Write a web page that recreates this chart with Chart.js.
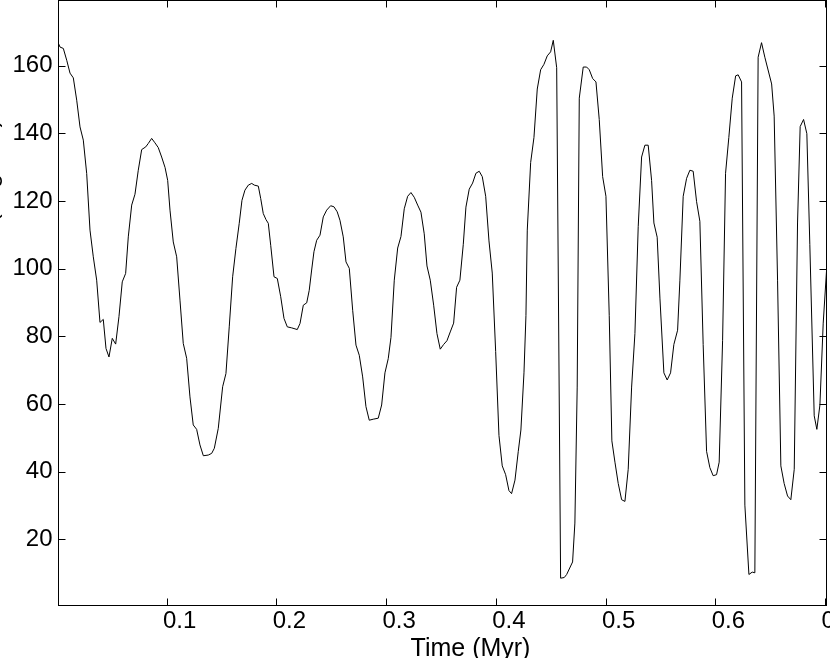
<!DOCTYPE html>
<html>
<head>
<meta charset="utf-8">
<script src="https://cdn.jsdelivr.net/npm/chart.js@4.4.1/dist/chart.umd.min.js"></script>
<style>
  html, body { margin: 0; padding: 0; background: #fff; }
  #frame { position: relative; width: 830px; height: 658px; overflow: hidden; }
  #chart { position: absolute; left: -28px; top: -20px; }
</style>
</head>
<body>
<div id="frame"><canvas id="chart" width="900" height="700"></canvas></div>
<script>
// time in Myr
const times = [
  0.0012, 0.0028, 0.0058, 0.0089, 0.0119, 0.0149, 0.0180, 0.0210, 0.0240, 0.0271,
  0.0301, 0.0331, 0.0362, 0.0392, 0.0422, 0.0447, 0.0474, 0.0504, 0.0535, 0.0565,
  0.0595, 0.0626, 0.0650, 0.0681, 0.0711, 0.0741, 0.0772, 0.0809, 0.0832, 0.0863,
  0.0893, 0.0923, 0.0954, 0.0985, 0.1009, 0.1030, 0.1060, 0.1091, 0.1121, 0.1151,
  0.1182, 0.1212, 0.1242, 0.1273, 0.1303, 0.1334, 0.1379, 0.1410, 0.1434, 0.1470,
  0.1510, 0.1540, 0.1570, 0.1601, 0.1631, 0.1661, 0.1686, 0.1713, 0.1744, 0.1775,
  0.1798, 0.1835, 0.1857, 0.1880, 0.1905, 0.1926, 0.1948, 0.1978, 0.2008, 0.2039,
  0.2069, 0.2099, 0.2139, 0.2190, 0.2215, 0.2245, 0.2276, 0.2299, 0.2321, 0.2342,
  0.2367, 0.2397, 0.2427, 0.2458, 0.2494, 0.2524, 0.2554, 0.2579, 0.2609, 0.2634,
  0.2664, 0.2695, 0.2725, 0.2755, 0.2786, 0.2816, 0.2846, 0.2882, 0.2928, 0.2959,
  0.2989, 0.3019, 0.3044, 0.3074, 0.3105, 0.3135, 0.3165, 0.3196, 0.3226, 0.3256,
  0.3287, 0.3317, 0.3347, 0.3372, 0.3402, 0.3433, 0.3463, 0.3493, 0.3524, 0.3554,
  0.3584, 0.3615, 0.3642, 0.3672, 0.3703, 0.3727, 0.3757, 0.3788, 0.3818, 0.3848,
  0.3876, 0.3907, 0.3937, 0.3967, 0.3998, 0.4028, 0.4058, 0.4089, 0.4119, 0.4143,
  0.4174, 0.4204, 0.4228, 0.4256, 0.4274, 0.4286, 0.4317, 0.4347, 0.4377, 0.4408,
  0.4438, 0.4468, 0.4499, 0.4523, 0.4554, 0.4590, 0.4623, 0.4645, 0.4699, 0.4720,
  0.4741, 0.4760, 0.4796, 0.4827, 0.4851, 0.4882, 0.4912, 0.4942, 0.4973, 0.5003,
  0.5033, 0.5057, 0.5085, 0.5115, 0.5146, 0.5176, 0.5206, 0.5237, 0.5267, 0.5297,
  0.5328, 0.5358, 0.5388, 0.5419, 0.5440, 0.5470, 0.5495, 0.5531, 0.5561, 0.5592,
  0.5622, 0.5656, 0.5677, 0.5707, 0.5738, 0.5768, 0.5798, 0.5829, 0.5859, 0.5889,
  0.5920, 0.5950, 0.5980, 0.6011, 0.6035, 0.6066, 0.6093, 0.6123, 0.6154, 0.6185,
  0.6208, 0.6239, 0.6269, 0.6306, 0.6336, 0.6360, 0.6390, 0.6421, 0.6451, 0.6513,
  0.6536, 0.6567, 0.6597, 0.6627, 0.6658, 0.6688, 0.6719, 0.6749, 0.6773, 0.6804,
  0.6834, 0.6861, 0.6901, 0.6925, 0.6953, 0.6983, 0.7014
];
// angle in degrees
const values = [
  166.7, 165.5, 165.1, 161.6, 157.8, 156.4, 149.8, 141.9, 138.0, 128.1,
  111.4, 103.5, 96.6, 84.1, 85.0, 76.4, 73.9, 79.4, 77.7, 85.8,
  96.1, 98.6, 109.4, 118.8, 122.0, 129.1, 135.2, 136.0, 137.0, 138.5,
  137.2, 135.8, 133.0, 129.9, 126.1, 117.3, 107.9, 103.5, 90.7, 77.9,
  73.5, 62.1, 53.8, 52.5, 47.9, 44.7, 44.9, 45.4, 46.9, 52.8,
  65.1, 69.0, 82.8, 97.6, 106.0, 113.4, 120.2, 123.2, 124.7, 125.2,
  124.7, 124.4, 120.7, 116.3, 114.5, 113.4, 106.9, 97.6, 97.1, 91.7,
  85.3, 82.8, 82.5, 82.0, 83.8, 89.2, 89.9, 93.6, 99.6, 105.0,
  108.4, 109.9, 115.3, 117.3, 118.6, 118.3, 116.8, 114.3, 109.4, 102.0,
  100.1, 87.7, 77.4, 74.4, 68.0, 59.2, 55.2, 55.5, 55.8, 59.7,
  69.2, 73.4, 79.7, 96.6, 106.1, 109.5, 117.7, 121.4, 122.5, 121.1,
  118.8, 116.7, 110.3, 100.8, 96.6, 89.2, 80.8, 76.2, 77.6, 78.7,
  81.3, 83.9, 94.5, 96.6, 107.2, 118.2, 123.5, 125.3, 128.2, 128.8,
  127.2, 121.4, 108.2, 98.7, 75.5, 50.7, 41.7, 39.1, 34.4, 33.5,
  37.5, 46.0, 52.3, 69.2, 86.1, 111.4, 131.4, 138.8, 153.1, 158.8,
  160.4, 162.9, 164.1, 167.5, 159.4, 8.5, 8.7, 9.6, 13.3, 24.8,
  65.0, 150.4, 159.6, 159.6, 158.8, 156.2, 155.2, 144.1, 127.2, 121.4,
  86.1, 49.1, 42.8, 36.5, 31.7, 31.2, 40.7, 65.0, 80.8, 112.4,
  133.0, 136.5, 136.5, 126.1, 113.5, 109.3, 91.3, 69.2, 67.1, 69.2,
  77.6, 81.8, 96.6, 121.4, 126.7, 129.1, 128.8, 119.8, 114.0, 77.6,
  46.0, 41.2, 38.8, 39.1, 42.8, 78.7, 128.2, 138.8, 150.4, 157.0,
  157.3, 155.2, 30.1, 9.6, 10.3, 10.1, 162.5, 166.8, 162.5, 154.6,
  145.1, 96.6, 41.7, 36.5, 32.8, 31.7, 40.7, 113.5, 142.0, 144.1,
  139.9, 107.2, 56.5, 52.5, 59.7, 83.9, 99.8
];
const xTicks = [0.1, 0.2, 0.3, 0.4, 0.5, 0.6, 0.7];
const yTicks = [20, 40, 60, 80, 100, 120, 140, 160];
const xRange = [0.0014, 0.7013];
const yRange = [0.43, 179.27];
const xTitle = 'Time (Myr)';
const yTitle = 'Mutual orbital inclination (degrees)';

const fontFamily = '"Liberation Sans", Arial, Helvetica, sans-serif';
Chart.defaults.font.family = fontFamily;
Chart.defaults.font.size = 24;
Chart.defaults.color = '#000';

// matplotlib style box with inward ticks on all four sides
const boxFrame = {
  id: 'boxFrame',
  afterDatasetsDraw(chart) {
    const { ctx, chartArea: a, scales: { x, y } } = chart;
    ctx.save();
    ctx.strokeStyle = '#000';
    ctx.lineWidth = 1;
    ctx.strokeRect(a.left, a.top, a.right - a.left, a.bottom - a.top);
    ctx.beginPath();
    x.ticks.forEach(t => {
      const px = Math.round(x.getPixelForValue(t.value)) + 0.5;
      ctx.moveTo(px, a.bottom); ctx.lineTo(px, a.bottom - 7);
      ctx.moveTo(px, a.top); ctx.lineTo(px, a.top + 7);
    });
    y.ticks.forEach(t => {
      const py = Math.round(y.getPixelForValue(t.value)) + 0.5;
      ctx.moveTo(a.left, py); ctx.lineTo(a.left + 7, py);
      ctx.moveTo(a.right, py); ctx.lineTo(a.right - 7, py);
    });
    ctx.stroke();
    ctx.fillStyle = '#000';
    ctx.font = '25px ' + fontFamily;
    ctx.textAlign = 'center';
    ctx.textBaseline = 'alphabetic';
    ctx.fillText(xTitle, (a.left + a.right) / 2 + 28, a.bottom + 50.5);
    ctx.restore();
  }
};

new Chart(document.getElementById('chart'), {
  type: 'line',
  data: {
    datasets: [{
      data: times.map((t, i) => ({ x: t, y: values[i] })),
      borderColor: '#000',
      borderWidth: 1,
      pointRadius: 0,
      tension: 0,
      fill: false
    }]
  },
  options: {
    responsive: false,
    animation: false,
    layout: { padding: { left: 0, top: 20.5, right: 45.5, bottom: 0 } },
    plugins: { legend: { display: false }, tooltip: { enabled: false } },
    scales: {
      x: {
        type: 'linear',
        min: xRange[0],
        max: xRange[1],
        afterBuildTicks: s => { s.ticks = xTicks.map(v => ({ value: v })); },
        afterFit: s => { s.height = 74.5; },
        grid: { display: false, drawTicks: false },
        border: { display: false },
        ticks: { padding: 1, labelOffset: 13, maxRotation: 0, autoSkip: false, callback: v => String(v) }
      },
      y: {
        type: 'linear',
        min: yRange[0],
        max: yRange[1],
        afterBuildTicks: s => { s.ticks = yTicks.map(v => ({ value: v })); },
        afterFit: s => { s.width = 86.5; },
        grid: { display: false, drawTicks: false },
        border: { display: false },
        ticks: { padding: 6, autoSkip: false, callback: v => String(v) },
        title: { display: true, text: yTitle, font: { size: 24 }, padding: { top: 3.5, bottom: 0 } }
      }
    }
  },
  plugins: [boxFrame]
});
</script>
</body>
</html>
